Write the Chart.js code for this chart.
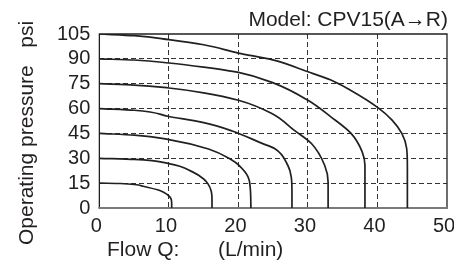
<!DOCTYPE html>
<html lang="en">
<head>
  <meta charset="UTF-8">
  <title>CPV15 Flow Chart</title>
  <script src="https://cdn.jsdelivr.net/npm/chart.js"></script>
  <style>
    html, body { margin: 0; padding: 0; background: #fff; }
    .chart-container { position: relative; width: 454px; height: 260px; }
  </style>
</head>
<body>
  <div class="chart-container">
    <canvas id="flowChart"></canvas>
  </div>

  <script>
    // Flow (L/min) vs operating pressure (psi), one curve per supply pressure
    const xTicks = [0, 10, 20, 30, 40, 50];
    const yTicks = [0, 15, 30, 45, 60, 75, 90, 105];

    const curve15 = [[0, 15], [3, 14.8], [6.3, 13.1], [8.6, 10.7], [9.8, 8], [10.3, 5.7], [10.4, 3], [10.4, 0]];
    const curve30 = [[0, 30], [5, 29.3], [10, 26.8], [13.4, 21.8], [15, 17.5], [15.6, 14.7], [16.1, 10], [16.2, 5], [16.2, 0]];
    const curve45 = [[0, 45], [5, 44], [10, 41.3], [15.7, 35.6], [19.1, 28.8], [20, 26], [21.4, 18.7], [21.7, 12], [21.8, 0]];
    const curve60 = [[0, 60], [5, 59], [10, 55.2], [15, 51.5], [19.1, 46.5], [23.4, 39], [25.2, 35.9], [27.1, 25.8], [27.6, 18.7], [27.7, 10], [27.7, 0]];
    const curve75 = [[0, 75], [5, 74.2], [10, 72.4], [15, 69.5], [20, 65], [24.8, 57], [28, 47], [30.5, 38.9], [32.4, 25.8], [32.9, 15.7], [32.9, 0]];
    const curve90 = [[0, 90], [5, 89.3], [10, 87.5], [15, 85], [20, 81.8], [25, 75.5], [30, 65], [33.3, 55], [36.2, 45], [37.8, 33.9], [38.2, 25.8], [38.2, 0]];
    const curve105 = [[0, 105], [5, 104], [10, 101.6], [15, 98.5], [20, 93.5], [24.8, 89.5], [30, 82.2], [33.3, 77.2], [36, 71.3], [40.2, 60.1], [42.1, 53], [43.5, 45], [44.2, 35.9], [44.3, 25], [44.3, 0]];

    const curves = [curve15, curve30, curve45, curve60, curve75, curve90, curve105];

    const ink = '#231f20';
    const font = 'Arial, "Liberation Sans", sans-serif';

    // Frame and texts drawn straight onto the canvas
    const framePlugin = {
      id: 'frame',
      beforeDatasetsDraw(chart) {
        const { ctx, chartArea: a } = chart;
        ctx.save();
        ctx.strokeStyle = ink;
        ctx.lineWidth = 1.3;
        ctx.beginPath();
        ctx.moveTo(a.left, a.bottom);
        ctx.lineTo(a.left, a.top);
        ctx.lineTo(a.right, a.top);
        ctx.lineTo(a.right, a.bottom);
        ctx.stroke();
        ctx.strokeStyle = '#7a7a7a';
        ctx.lineWidth = 2;
        ctx.beginPath();
        ctx.moveTo(a.left - 1, a.bottom);
        ctx.lineTo(a.right + 1, a.bottom);
        ctx.stroke();
        ctx.restore();
      },
      afterDraw(chart) {
        const { ctx } = chart;
        ctx.save();
        ctx.fillStyle = ink;
        ctx.textBaseline = 'alphabetic';

        ctx.font = '21px ' + font;
        ctx.textAlign = 'right';
        ctx.fillText('Model: CPV15(A\u2192R)', 448, 26);

        ctx.textAlign = 'left';
        ctx.fillText('Flow Q:', 107, 256);
        ctx.fillText('(L/min)', 218, 256);

        ctx.translate(33, 245);
        ctx.rotate(-Math.PI / 2);
        ctx.fillText('Operating pressure   psi', 0, 0);
        ctx.restore();
      }
    };

    const ctx = document.getElementById('flowChart').getContext('2d');
    new Chart(ctx, {
      type: 'line',
      data: {
        datasets: curves.map(c => ({
          data: c.map(p => ({ x: p[0], y: p[1] })),
          indexAxis: 'y',
          cubicInterpolationMode: 'monotone',
          borderColor: ink,
          borderWidth: 1.7,
          pointRadius: 0,
          fill: false
        }))
      },
      options: {
        responsive: true,
        maintainAspectRatio: false,
        animation: false,
        layout: { padding: { left: 48, right: 7, top: 34, bottom: 16 } },
        plugins: {
          legend: { display: false },
          tooltip: { enabled: false },
          title: { display: false }
        },
        scales: {
          x: {
            type: 'linear',
            min: xTicks[0],
            max: xTicks[xTicks.length - 1],
            afterBuildTicks: s => { s.ticks = xTicks.map(v => ({ value: v })); },
            afterFit: s => { s.paddingRight = 0; s.paddingLeft = 0; },
            grid: {
              drawTicks: false,
              color: c => (c.tick.value === xTicks[0] || c.tick.value === xTicks[xTicks.length - 1]) ? 'transparent' : '#333',
              lineWidth: 1
            },
            border: { display: false, dash: [5, 3] },
            ticks: {
              autoSkip: false,
              maxRotation: 0,
              padding: 6,
              labelOffset: -3,
              color: ink,
              font: { family: font, size: 20 }
            }
          },
          y: {
            type: 'linear',
            min: yTicks[0],
            max: yTicks[yTicks.length - 1],
            afterBuildTicks: s => { s.ticks = yTicks.map(v => ({ value: v })); },
            grid: {
              drawTicks: false,
              color: c => (c.tick.value === yTicks[0] || c.tick.value === yTicks[yTicks.length - 1]) ? 'transparent' : '#333',
              lineWidth: 1
            },
            border: { display: false, dash: [5, 3] },
            ticks: {
              autoSkip: false,
              padding: 9,
              color: ink,
              font: { family: font, size: 20 }
            }
          }
        }
      },
      plugins: [framePlugin]
    });
  </script>
</body>
</html>
